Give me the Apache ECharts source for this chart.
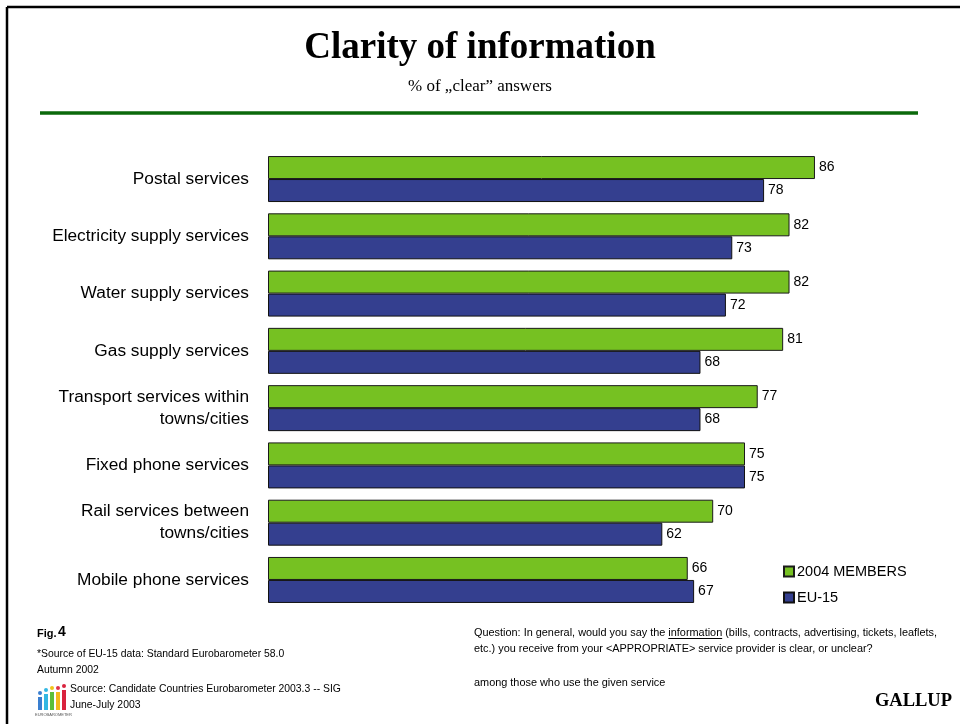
<!DOCTYPE html>
<html>
<head>
<meta charset="utf-8">
<script src="https://cdn.jsdelivr.net/npm/echarts@6/dist/echarts.min.js"></script>
<style>
  html, body { margin: 0; padding: 0; background: #fff; }
  #chart { width: 960px; height: 724px; }
</style>
</head>
<body>
<div id="chart"></div>
<script>
// Services surveyed (top to bottom)
const categories = [
  'Postal services',
  'Electricity supply services',
  'Water supply services',
  'Gas supply services',
  'Transport services within\ntowns/cities',
  'Fixed phone services',
  'Rail services between\ntowns/cities',
  'Mobile phone services'
];
// % of "clear" answers
const members2004 = [86, 82, 82, 81, 77, 75, 70, 66];
const eu15 = [78, 73, 72, 68, 68, 75, 62, 67];
const seriesNames = ['2004 MEMBERS', 'EU-15'];

const GREEN = '#76c122';
const BLUE = '#343f8f';
const SANS = 'Liberation Sans, Arial, sans-serif';
const SERIF = 'Liberation Serif, Times New Roman, serif';
const NOTE_FONT = '10.4px ' + SANS;
const Q_FONT = '10.9px ' + SANS;

const chart = echarts.init(document.getElementById('chart'), null, { renderer: 'canvas' });

const valueLabel = {
  show: true,
  position: 'right',
  distance: 4,
  color: '#000',
  fontFamily: SANS,
  fontSize: 14
};

chart.setOption({
  backgroundColor: '#fff',
  animation: false,
  title: [
    {
      text: 'Clarity of information',
      left: 'center',
      top: 25,
      textStyle: { fontFamily: SERIF, fontWeight: 'bold', fontSize: 37, color: '#000' }
    },
    {
      text: '% of \u201Eclear\u201D answers',
      left: 'center',
      top: 73,
      textStyle: { fontFamily: SERIF, fontWeight: 'normal', fontSize: 17, color: '#000' }
    }
  ],
  legend: {
    orient: 'vertical',
    left: 778,
    top: 559,
    itemWidth: 10,
    itemHeight: 10,
    itemGap: 11,
    icon: 'rect',
    data: seriesNames,
    textStyle: { fontFamily: SANS, fontSize: 14.5, color: '#000', padding: [0, 0, 0, -2] }
  },
  grid: { left: 268, right: 56, top: 150.4, bottom: 115.4, containLabel: false },
  xAxis: {
    type: 'value',
    min: 0,
    max: 100,
    show: false
  },
  yAxis: {
    type: 'category',
    inverse: true,
    data: categories,
    axisLine: { show: false },
    axisTick: { show: false },
    axisLabel: {
      margin: 19,
      color: '#000',
      fontFamily: SANS,
      fontSize: 17.3,
      lineHeight: 22,
      align: 'right'
    }
  },
  series: [
    {
      name: seriesNames[0],
      type: 'bar',
      data: members2004,
      barGap: '0%',
      barCategoryGap: '19.7%',
      itemStyle: { color: GREEN, borderColor: '#1a1a1a', borderWidth: 1 },
      label: valueLabel
    },
    {
      name: seriesNames[1],
      type: 'bar',
      data: eu15,
      itemStyle: { color: BLUE, borderColor: '#111', borderWidth: 1 },
      label: valueLabel
    }
  ],
  graphic: [
    // frame lines
    { type: 'line', shape: { x1: 7, y1: 7, x2: 960, y2: 7 }, style: { stroke: '#000', lineWidth: 2.5 } },
    { type: 'line', shape: { x1: 7, y1: 7, x2: 7, y2: 724 }, style: { stroke: '#000', lineWidth: 2.5 } },
    // rule under the heading
    { type: 'line', shape: { x1: 40, y1: 113, x2: 918, y2: 113 }, style: { stroke: '#0b690b', lineWidth: 3.5 } },
    // footer notes
    { type: 'text', left: 37, top: 628, style: { text: 'Fig.', fill: '#000', font: 'bold 11px ' + SANS } },
    { type: 'text', left: 58, top: 625, style: { text: '4', fill: '#000', font: 'bold 14px ' + SANS } },
    { type: 'text', left: 37, top: 649, style: { text: '*Source of EU-15 data: Standard Eurobarometer 58.0', fill: '#000', font: NOTE_FONT } },
    { type: 'text', left: 37, top: 665, style: { text: 'Autumn 2002', fill: '#000', font: NOTE_FONT } },
    { type: 'text', left: 70, top: 684, style: { text: 'Source: Candidate Countries Eurobarometer 2003.3 -- SIG', fill: '#000', font: NOTE_FONT } },
    { type: 'text', left: 70, top: 700, style: { text: 'June-July 2003', fill: '#000', font: NOTE_FONT } },
    // logo
    { type: 'rect', shape: { x: 38, y: 697, width: 4, height: 13 }, style: { fill: '#3a7fd0' } },
    { type: 'circle', shape: { cx: 40, cy: 693, r: 2 }, style: { fill: '#3a7fd0' } },
    { type: 'rect', shape: { x: 44, y: 694, width: 4, height: 16 }, style: { fill: '#33b7e3' } },
    { type: 'circle', shape: { cx: 46, cy: 690, r: 2 }, style: { fill: '#33b7e3' } },
    { type: 'rect', shape: { x: 50, y: 692, width: 4, height: 18 }, style: { fill: '#5bbf3a' } },
    { type: 'circle', shape: { cx: 52, cy: 688, r: 2 }, style: { fill: '#f0c419' } },
    { type: 'rect', shape: { x: 56, y: 692, width: 4, height: 18 }, style: { fill: '#f2b91c' } },
    { type: 'circle', shape: { cx: 58, cy: 688, r: 2 }, style: { fill: '#e0334a' } },
    { type: 'rect', shape: { x: 62, y: 690, width: 4, height: 20 }, style: { fill: '#d9233e' } },
    { type: 'circle', shape: { cx: 64, cy: 686, r: 2 }, style: { fill: '#d9233e' } },
    { type: 'text', left: 35, top: 713, style: { text: 'EUROBAROMETER', fill: '#555', font: '4px ' + SANS } },
    // question wording
    { type: 'text', left: 474, top: 627, style: { text: 'Question: In general, would you say the information (bills, contracts, advertising, tickets, leaflets,', fill: '#000', font: Q_FONT } },
    { type: 'text', left: 474, top: 643, style: { text: 'etc.) you receive from your <APPROPRIATE> service provider is clear, or unclear?', fill: '#000', font: Q_FONT } },
    { type: 'text', left: 474, top: 677, style: { text: 'among those who use the given service', fill: '#000', font: Q_FONT } },
    { type: 'text', right: 8, top: 692, style: { text: 'GALLUP', fill: '#000', font: 'bold 18.5px ' + SERIF } }
  ]
});

// underline the word "information" in the question line
(function () {
  const zr = chart.getZr();
  const ctx = document.createElement('canvas').getContext('2d');
  ctx.font = Q_FONT;
  const x0 = 474 + ctx.measureText('Question: In general, would you say the ').width;
  const w = ctx.measureText('information').width;
  zr.add(new echarts.graphic.Line({
    shape: { x1: x0, y1: 638.5, x2: x0 + w, y2: 638.5 },
    style: { stroke: '#000', lineWidth: 1 }
  }));
})();
</script>
</body>
</html>
